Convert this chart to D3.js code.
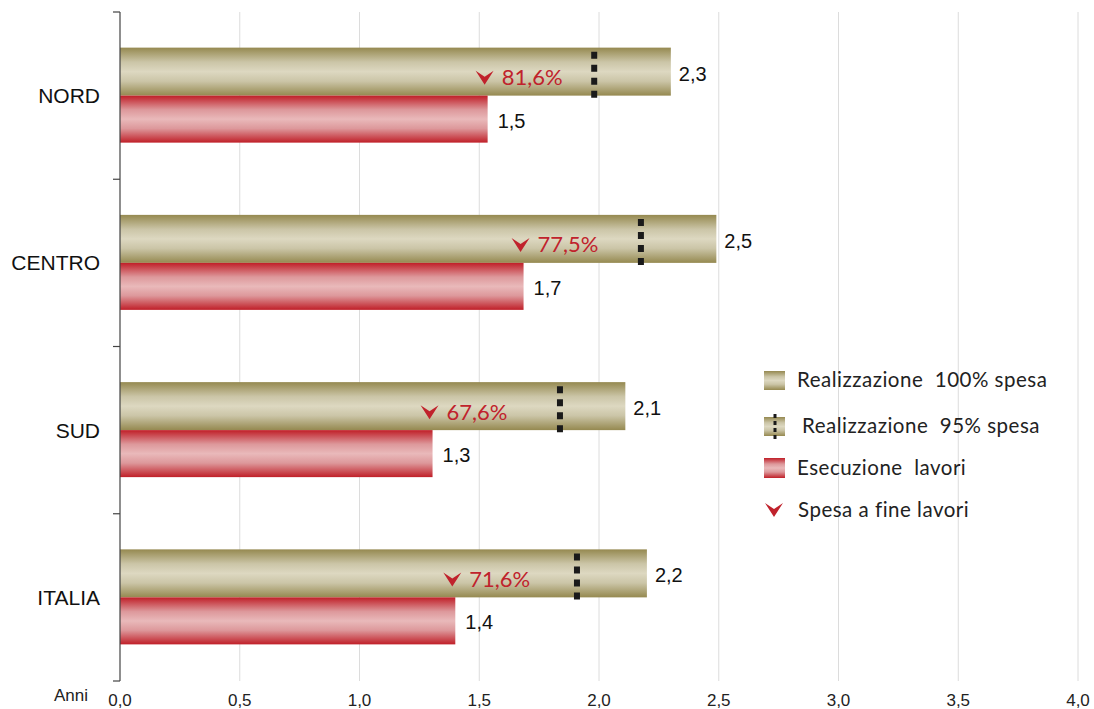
<!DOCTYPE html>
<html><head><meta charset="utf-8">
<script src="https://cdn.jsdelivr.net/npm/d3@7"></script>
<style>body{margin:0;background:#fff}svg{display:block}</style>
</head><body>
<svg id="c" width="1094" height="709"></svg>
<script>
const categories = ["NORD","CENTRO","SUD","ITALIA"];
const real100 = [2.3, 2.49, 2.11, 2.2];
const real100Labels = ["2,3","2,5","2,1","2,2"];
const real95 = [1.98, 2.175, 1.837, 1.908];
const esecuzione = [1.535, 1.685, 1.305, 1.4];
const esecuzioneLabels = ["1,5","1,7","1,3","1,4"];
const spesaPct = ["81,6%","77,5%","67,6%","71,6%"];
const xTicks = [0,0.5,1,1.5,2,2.5,3,3.5,4];
const legendItems = ["Realizzazione  100% spesa","Realizzazione  95% spesa","Esecuzione  lavori","Spesa a fine lavori"];

(function(){
const svg = d3.select("#c");
const pL = 120, pR = 1078, pT = 12, pB = 681;
const x = d3.scaleLinear().domain([0,4]).range([pL,pR]);
const y = d3.scaleBand().domain(categories).range([pT,pB]).paddingInner(0).paddingOuter(0);
const barH = 48;

const defs = svg.append("defs");
function grad(id, stops){
  const g = defs.append("linearGradient").attr("id",id).attr("x1",0).attr("y1",0).attr("x2",0).attr("y2",1);
  stops.forEach(([o,c])=>g.append("stop").attr("offset",o).attr("stop-color",c));
}
grad("gold",[[0,"#958950"],[0.3,"#cbc5a7"],[0.5,"#ddd8c1"],[0.7,"#cbc5a7"],[1,"#958950"]]);
grad("red",[[0,"#c01f28"],[0.3,"#dd989b"],[0.5,"#e9b9ba"],[0.7,"#dd989b"],[1,"#c01f28"]]);

// gridlines
svg.append("g").selectAll("line").data(xTicks.slice(1)).join("line")
  .attr("x1",d=>x(d)).attr("x2",d=>x(d)).attr("y1",pT).attr("y2",pB)
  .attr("stroke","#dcdcdc").attr("stroke-width",1);

// x tick labels
const vf = "'Liberation Sans', Arial, sans-serif";
svg.append("g").selectAll("text").data(xTicks).join("text")
  .attr("x",d=>x(d)).attr("y",706).attr("text-anchor","middle")
  .attr("font-family",vf).attr("font-size",17).attr("fill","#222")
  .text(d=>d.toFixed(1).replace(".",","));
svg.append("text").attr("x",54).attr("y",701)
  .attr("font-family",vf).attr("font-size",17).attr("fill","#222").text("Anni");

// bars
const bandMid = d => y(d) + y.bandwidth()/2;
const g = svg.append("g");
g.selectAll("rect.gold").data(categories).join("rect").attr("class","gold")
  .attr("x",x(0)).attr("y",d=>bandMid(d)-barH).attr("height",barH)
  .attr("width",(d,i)=>x(real100[i])-x(0)).attr("fill","url(#gold)");
g.selectAll("rect.red").data(categories).join("rect").attr("class","red")
  .attr("x",x(0)).attr("y",d=>bandMid(d)).attr("height",barH-1)
  .attr("width",(d,i)=>x(esecuzione[i])-x(0)).attr("fill","url(#red)");

// dotted 95% lines
g.selectAll("line.d95").data(categories).join("line").attr("class","d95")
  .attr("x1",(d,i)=>x(real95[i])).attr("x2",(d,i)=>x(real95[i]))
  .attr("y1",d=>bandMid(d)-barH+4).attr("y2",d=>bandMid(d)+5)
  .attr("stroke","#1a1a1a").attr("stroke-width",6).attr("stroke-dasharray","7,6");

// spesa markers
const chevron = "M-9,-7 L0,-1 L9,-7 L0,7 Z";
const mk = g.selectAll("g.mk").data(categories).join("g").attr("class","mk")
  .attr("transform",(d,i)=>`translate(${x(esecuzione[i])-3},${bandMid(d)-18})`);
mk.append("path").attr("d",chevron).attr("fill","#c0222c");
mk.append("text").attr("x",17).attr("y",7.5).attr("font-family","Lato, sans-serif").attr("font-size",22)
  .attr("fill","#c0222c").text((d,i)=>spesaPct[i]);

// value labels
g.selectAll("text.v1").data(categories).join("text").attr("class","v1")
  .attr("x",(d,i)=>x(real100[i])+8).attr("y",d=>bandMid(d)-15).attr("font-family",vf).attr("font-size",20).attr("fill","#111")
  .text((d,i)=>real100Labels[i]);
g.selectAll("text.v2").data(categories).join("text").attr("class","v2")
  .attr("x",(d,i)=>x(esecuzione[i])+10).attr("y",d=>bandMid(d)+32).attr("font-family",vf).attr("font-size",20).attr("fill","#111")
  .text((d,i)=>esecuzioneLabels[i]);

// left axis
svg.append("line").attr("x1",pL).attr("x2",pL).attr("y1",pT).attr("y2",pB).attr("stroke","#444").attr("stroke-width",1.2);
const bounds = categories.map(d=>y(d)).concat([pB]);
svg.append("g").selectAll("line").data(bounds).join("line")
  .attr("x1",pL-7).attr("x2",pL).attr("y1",d=>d).attr("y2",d=>d).attr("stroke","#444").attr("stroke-width",1.2);
svg.append("g").selectAll("text").data(categories).join("text")
  .attr("x",100).attr("y",d=>bandMid(d)+7.5).attr("text-anchor","end")
  .attr("font-family",vf).attr("font-size",21).attr("fill","#111").text(d=>d);

// legend
const lg = svg.append("g").attr("transform","translate(764,380)");
const rowY = [0,46,88,130];
const textX = [33,38,33,34];
legendItems.forEach((t,i)=>{
  const r = lg.append("g").attr("transform",`translate(0,${rowY[i]})`);
  if(i===0||i===1){
    r.append("rect").attr("x",0).attr("y",-9).attr("width",21).attr("height",19).attr("fill","url(#gold)");
    if(i===1) r.append("line").attr("x1",11).attr("x2",11).attr("y1",-12).attr("y2",13).attr("stroke","#1a1a1a").attr("stroke-width",3).attr("stroke-dasharray","4,3");
  } else if(i===2){
    r.append("rect").attr("x",0).attr("y",-10).attr("width",21).attr("height",20).attr("fill","url(#red)");
  } else {
    r.append("path").attr("d",chevron).attr("transform","translate(10,0)").attr("fill","#c0222c");
  }
  r.append("text").attr("x",textX[i]).attr("y",7).attr("font-family","Lato, sans-serif").attr("font-size",20.5)
    .attr("letter-spacing",0.5).attr("fill","#222").style("white-space","pre").text(t);
});
})();
</script>
</body></html>
